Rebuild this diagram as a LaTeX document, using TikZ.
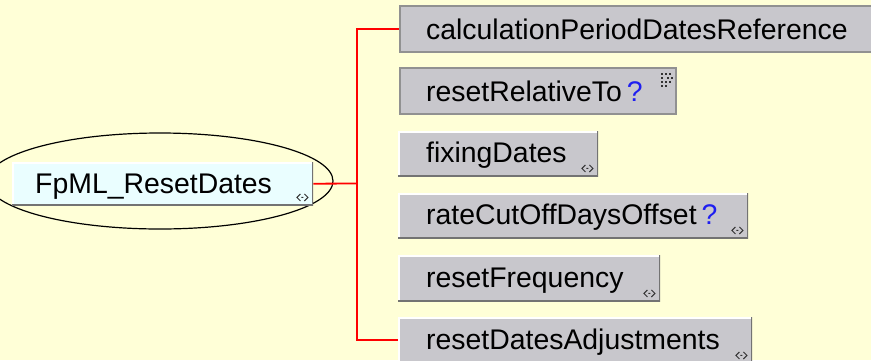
\documentclass[tikz,border=0pt]{standalone}
\usepackage{fontspec}
\setmainfont{Liberation Sans}
\usetikzlibrary{positioning, shapes.geometric}
\definecolor{BG}{RGB}{255,255,215}
\definecolor{BX}{RGB}{200,199,204}
\definecolor{RT}{RGB}{234,254,255}
\definecolor{ED}{RGB}{115,115,115}
\definecolor{FR}{RGB}{145,145,145}
\definecolor{QB}{RGB}{30,30,240}
\definecolor{LN}{RGB}{255,0,0}
\definecolor{IC}{RGB}{50,50,50}

\tikzset{
  elbox/.style={fill=BX, anchor=north west, inner sep=0pt,
    path picture={
      \draw[white, line width=3pt] (path picture bounding box.south west)
        |- (path picture bounding box.north east);
      \draw[ED, line width=3pt] (path picture bounding box.south west)
        -| (path picture bounding box.north east);}},
  attbox/.style={fill=BX, draw=FR, line width=2pt, anchor=north west, inner sep=0pt},
  lbl/.style={anchor=base west, inner sep=0pt, font=\fontsize{28.4}{32}\selectfont},
  conn/.style={LN, line width=1.8pt},
  expand/.pic={
    \draw[IC, line width=1pt] (-2,-3.5) -- (-5.5,0) -- (-2,3.5) (2,-3.5) -- (5.5,0) -- (2,3.5) (-1,0) -- (1,0);},
  attgrid/.pic={
    \foreach \dx/\dy in {0/0,4/0,8/0,0/4,6/4,10/4,0/8,4/8,8/8,0/12,4/12}
      \fill[IC] (\dx,\dy) rectangle ++(1.8,1.8);}
}

\begin{document}
\begin{tikzpicture}[x=1pt, y=-1pt]
\fill[BG] (0,0) rectangle (871,360);
\useasboundingbox (0,0) rectangle (871,360);
\clip (0,0) rectangle (871,360);

\node[draw, ellipse, line width=1.2pt, inner sep=0pt, minimum width=346pt, minimum height=96pt] (oval) at (160,181) {};
\node[elbox, fill=RT, minimum width=301pt, minimum height=43pt] (root) at (12,162) {};
\node[lbl] (root-t) at ([xshift=23pt,yshift=-10pt]root.west) {FpML\_ResetDates};
\pic at ([xshift=-11pt,yshift=8pt]root.south east) {expand};

\node[attbox, minimum width=480pt, minimum height=46pt] (cpdr) at (399,5) {};
\node[lbl] (cpdr-t) at ([xshift=27pt,yshift=-10pt]cpdr.west) {calculationPeriodDatesReference};

\node[attbox, minimum width=276pt, minimum height=46pt] (rrt) at (399,67) {};
\node[lbl] (rrt-t) at ([xshift=27pt,yshift=-10pt]rrt.west) {resetRelativeTo\hspace{5pt}\textcolor{QB}{?}};
\pic at ([xshift=-16pt,yshift=-6pt]rrt.north east) {attgrid};

\node[elbox, minimum width=200pt, minimum height=45pt] (fix) at (398,131) {};
\node[lbl] (fix-t) at ([xshift=28pt,yshift=-9pt]fix.west) {fixingDates};
\pic at ([xshift=-11pt,yshift=8pt]fix.south east) {expand};

\node[elbox, minimum width=350pt, minimum height=45pt] (rcdo) at (398,193) {};
\node[lbl] (rcdo-t) at ([xshift=28pt,yshift=-9pt]rcdo.west) {rateCutOffDaysOffset\hspace{5pt}\textcolor{QB}{?}};
\pic at ([xshift=-11pt,yshift=8pt]rcdo.south east) {expand};

\node[elbox, minimum width=262pt, minimum height=46pt] (rfreq) at (398,255) {};
\node[lbl] (rfreq-t) at ([xshift=28pt,yshift=-9pt]rfreq.west) {resetFrequency};
\pic at ([xshift=-11pt,yshift=8pt]rfreq.south east) {expand};

\node[elbox, minimum width=354pt, minimum height=46pt] (rdadj) at (398,317) {};
\node[lbl] (rdadj-t) at ([xshift=28pt,yshift=-9pt]rdadj.west) {resetDatesAdjustments};
\pic at ([xshift=-11pt,yshift=8pt]rdadj.south east) {expand};

\coordinate (fork) at (357,183.5);
\draw[conn] (root.east) -- (fork);
\draw[conn] (fork) |- (cpdr.west);
\draw[conn] (fork) |- (rdadj.west);
\end{tikzpicture}
\end{document}
